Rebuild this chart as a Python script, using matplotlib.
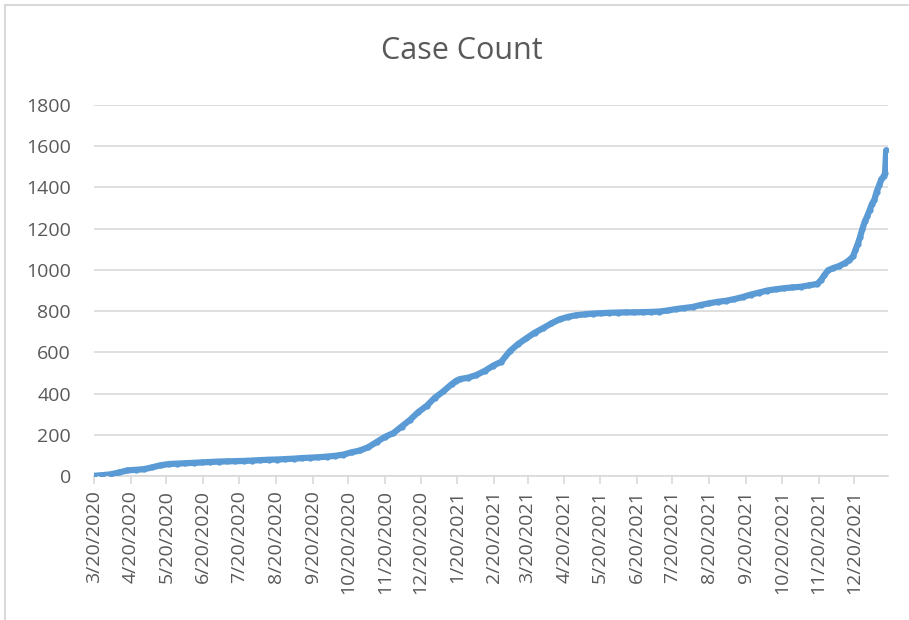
import numpy as np
import pandas as pd
import matplotlib.pyplot as plt
import matplotlib.dates as mdates
from matplotlib.lines import Line2D

# values (cumulative cases)
dates = ['2020-03-20', '2020-03-27', '2020-04-03', '2020-04-10', '2020-04-17', '2020-04-24',
         '2020-05-01', '2020-05-08', '2020-05-15', '2020-05-22', '2020-05-29', '2020-06-05',
         '2020-06-12', '2020-06-19', '2020-06-26', '2020-07-03', '2020-07-10', '2020-07-17',
         '2020-07-24', '2020-07-31', '2020-08-07', '2020-08-14', '2020-08-21', '2020-08-28',
         '2020-09-04', '2020-09-11', '2020-09-18', '2020-09-25', '2020-10-02', '2020-10-09',
         '2020-10-16', '2020-10-23', '2020-10-30', '2020-11-06', '2020-11-13', '2020-11-20',
         '2020-11-27', '2020-12-04', '2020-12-11', '2020-12-18', '2020-12-25', '2021-01-01',
         '2021-01-08', '2021-01-15', '2021-01-19', '2021-01-22', '2021-01-29', '2021-02-05',
         '2021-02-12', '2021-02-19', '2021-02-26', '2021-03-05', '2021-03-12', '2021-03-19',
         '2021-03-26', '2021-04-02', '2021-04-09', '2021-04-16', '2021-04-23', '2021-04-30',
         '2021-05-07', '2021-05-14', '2021-05-21', '2021-05-28', '2021-06-04', '2021-06-11',
         '2021-06-18', '2021-06-25', '2021-07-02', '2021-07-09', '2021-07-16', '2021-07-23',
         '2021-07-30', '2021-08-06', '2021-08-13', '2021-08-20', '2021-08-27', '2021-09-03',
         '2021-09-10', '2021-09-17', '2021-09-24', '2021-10-01', '2021-10-08', '2021-10-15',
         '2021-10-22', '2021-10-29', '2021-11-05', '2021-11-12', '2021-11-19', '2021-11-22',
         '2021-11-25', '2021-11-28', '2021-12-02', '2021-12-07', '2021-12-12', '2021-12-16',
         '2021-12-19', '2021-12-21', '2021-12-23', '2021-12-25', '2021-12-27', '2021-12-29',
         '2021-12-31', '2022-01-02', '2022-01-04', '2022-01-06', '2022-01-08', '2022-01-10',
         '2022-01-12', '2022-01-14', '2022-01-15', '2022-01-16']
cases = [1, 4, 8, 17, 27, 30,
         33, 42, 52, 58, 60, 62,
         64, 66, 68, 70, 71, 72,
         73, 75, 77, 79, 80, 82,
         84, 87, 89, 91, 94, 98,
         104, 115, 124, 140, 165, 190,
         208, 240, 272, 310, 340, 380,
         410, 445, 462, 470, 477, 490,
         510, 535, 555, 605, 640, 668,
         695, 717, 740, 760, 772, 780,
         784, 788, 790, 792, 793, 794,
         794, 795, 796, 798, 803, 810,
         815, 820, 830, 838, 845, 850,
         858, 868, 880, 890, 900, 906,
         911, 915, 918, 925, 932, 950,
         975, 998, 1008, 1018, 1032, 1048,
         1065, 1095, 1125, 1160, 1200, 1235,
         1260, 1290, 1320, 1340, 1380, 1410,
         1440, 1455, 1470, 1580]

title = 'Case Count'
x = pd.to_datetime(dates)

text_col = '#595959'
grid_col = '#D9D9D9'
line_col = '#5B9BD5'

plt.rcParams['font.family'] = ['Open Sans', 'DejaVu Sans']

fig = plt.figure(figsize=(9.09, 6.2), dpi=100)
ax = fig.add_axes([94 / 909, 1 - 476 / 620, (888 - 94) / 909, (476 - 105) / 620])

ax.plot(x, cases, color=line_col, lw=4.5, marker='o', ms=3.5,
        solid_capstyle='round', solid_joinstyle='round', zorder=3)

ax.set_ylim(0, 1800)
ax.set_yticks(np.arange(0, 1801, 200))
ax.set_xlim(x[0], x[-1] + pd.Timedelta(days=1.5))
ax.xaxis.set_major_locator(mdates.MonthLocator(bymonthday=20))
ax.xaxis.set_major_formatter(
    plt.FuncFormatter(lambda v, p: '{d.month}/{d.day}/{d.year}'.format(d=mdates.num2date(v))))

ax.grid(axis='y', color=grid_col, lw=1.2)
ax.set_axisbelow(True)
for s in ['left', 'right', 'top']:
    ax.spines[s].set_visible(False)
ax.spines['bottom'].set_color(grid_col)
ax.spines['bottom'].set_linewidth(1.2)

ax.tick_params(axis='y', length=0, labelsize=14, labelcolor=text_col, pad=16.5)
ax.tick_params(axis='x', length=6, width=1.2, color=grid_col, labelsize=14,
               labelcolor=text_col, labelrotation=90, pad=4)

fig.text(462 / 909, 1 - 51 / 620, title, ha='center', va='center',
         fontsize=22, color=text_col)

# chart area border (top and left edges visible)
fig.add_artist(Line2D([5 / 909, 1], [1 - 5 / 620, 1 - 5 / 620], color=grid_col, lw=1.5))
fig.add_artist(Line2D([5 / 909, 5 / 909], [0, 1 - 5 / 620], color=grid_col, lw=1.5))

fig.savefig('out.png', dpi=100)
